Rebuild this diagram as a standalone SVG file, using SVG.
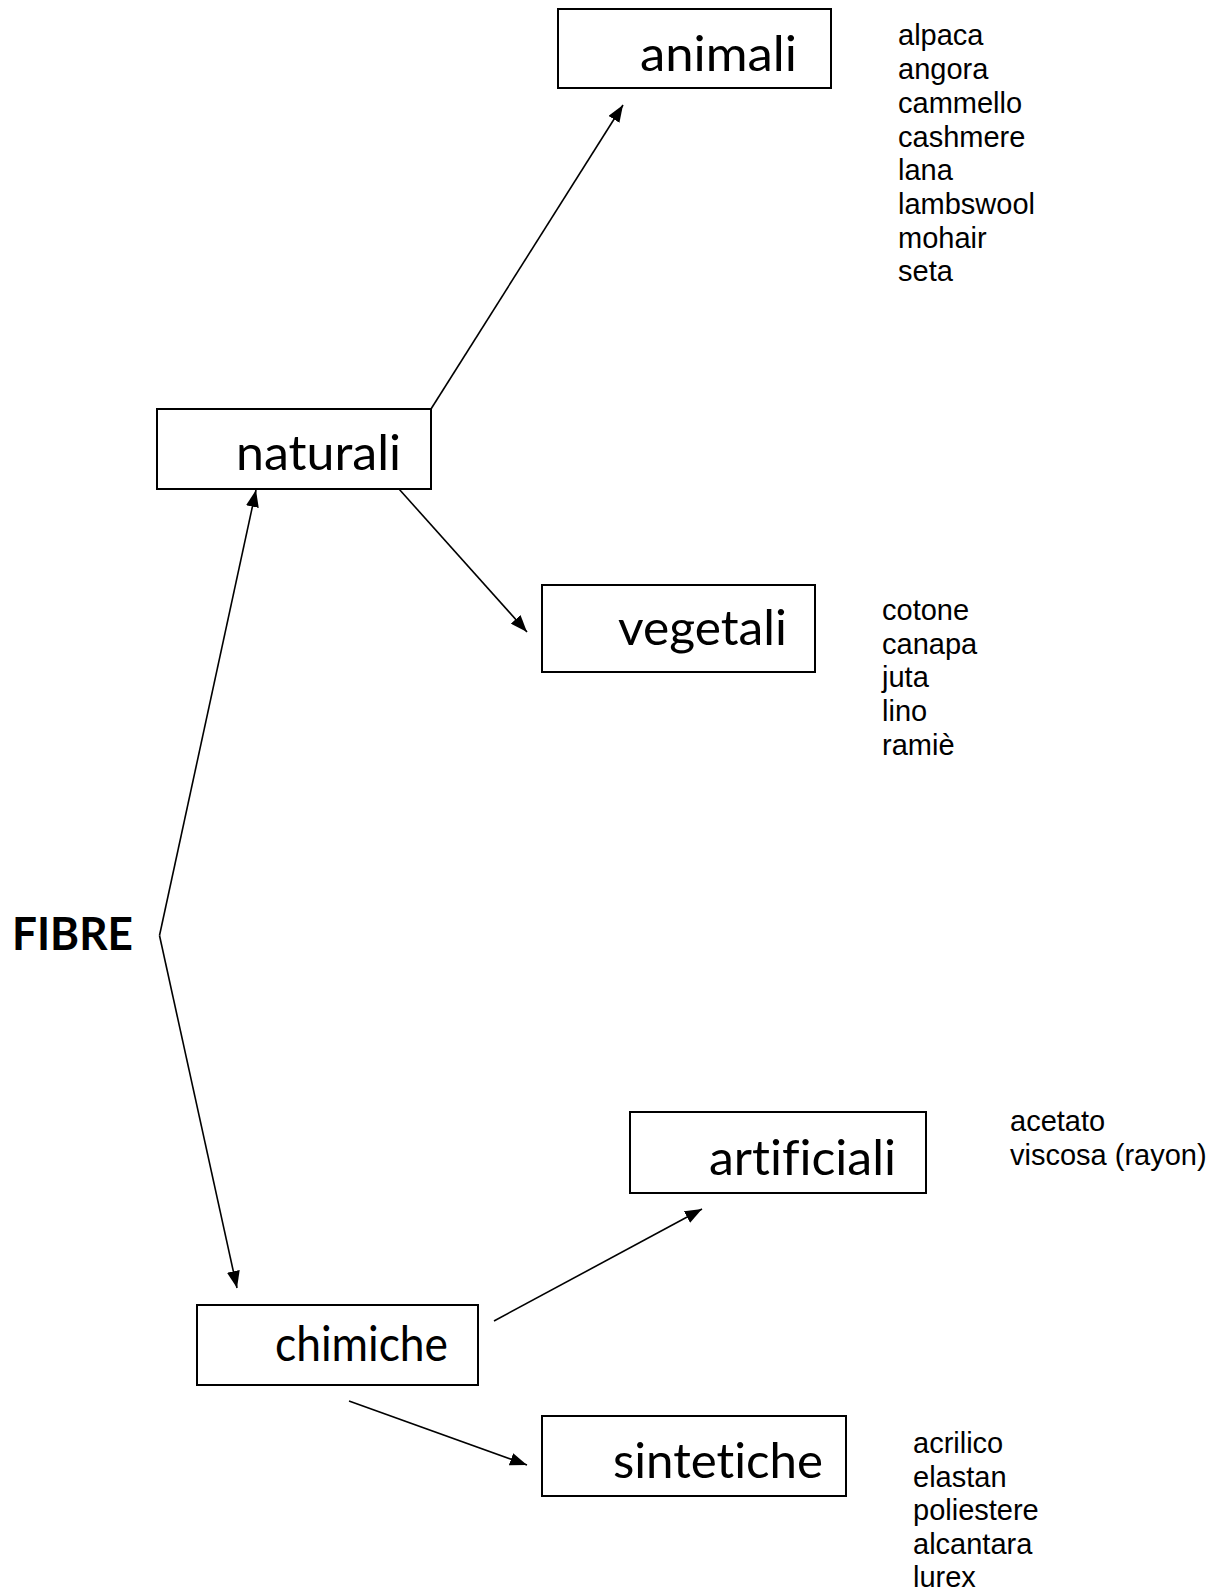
<svg xmlns="http://www.w3.org/2000/svg" width="1225" height="1593" viewBox="0 0 1225 1593">
<style>
.box{fill:#fff;stroke:#000;stroke-width:2}
.lbl{font-family:Lato,"Open Sans",sans-serif;font-size:49px;fill:#000;font-variant-ligatures:none;font-feature-settings:"liga" 0}
.lst{font-family:"Liberation Sans",Arial,sans-serif;font-size:29px;fill:#000}
.con{stroke:#000;stroke-width:1.6;fill:none}
.arr{marker-end:url(#ah)}
</style>
<defs>
<marker id="ah" viewBox="0 0 17 13" refX="17" refY="6.5" markerWidth="17" markerHeight="13" markerUnits="userSpaceOnUse" orient="auto">
<path d="M0,0 L17,6.5 L0,13 Z" fill="#000"/>
</marker>
</defs>
<rect width="1225" height="1593" fill="#fff"/>
<g id="connectors">
<path class="con arr" d="M431,409 L623,105"/>
<path class="con arr" d="M399,489 L527,632"/>
<path class="con arr" d="M159.5,935.5 L256,490"/>
<path class="con arr" d="M159.5,935.5 L237,1288"/>
<path class="con arr" d="M494,1321 L702,1209"/>
<path class="con arr" d="M349,1401 L527,1465"/>
</g>
<g id="fibre">
<text x="12" y="950" font-family="Lato,'Open Sans',sans-serif" font-weight="bold" font-size="46" textLength="121" lengthAdjust="spacingAndGlyphs">FIBRE</text>
</g>
<g id="animali">
<rect class="box" x="558" y="9" width="273" height="79"/>
<text class="lbl" x="640" y="71" textLength="157" lengthAdjust="spacingAndGlyphs">animali</text>
</g>
<g id="animali-list">
<text class="lst" x="898" y="45">alpaca</text>
<text class="lst" x="898" y="79">angora</text>
<text class="lst" x="898" y="113">cammello</text>
<text class="lst" x="898" y="147">cashmere</text>
<text class="lst" x="898" y="180">lana</text>
<text class="lst" x="898" y="214">lambswool</text>
<text class="lst" x="898" y="248">mohair</text>
<text class="lst" x="898" y="281">seta</text>
</g>
<g id="naturali">
<rect class="box" x="157" y="409" width="274" height="80"/>
<text class="lbl" x="236" y="470" textLength="165" lengthAdjust="spacingAndGlyphs">naturali</text>
</g>
<g id="vegetali">
<rect class="box" x="542" y="585" width="273" height="87"/>
<text class="lbl" x="618" y="645" textLength="169" lengthAdjust="spacingAndGlyphs">vegetali</text>
</g>
<g id="vegetali-list">
<text class="lst" x="882" y="620">cotone</text>
<text class="lst" x="882" y="654">canapa</text>
<text class="lst" x="882" y="687">juta</text>
<text class="lst" x="882" y="721">lino</text>
<text class="lst" x="882" y="755">ramiè</text>
</g>
<g id="chimiche">
<rect class="box" x="197" y="1305" width="281" height="80"/>
<text class="lbl" x="275" y="1361" textLength="173" lengthAdjust="spacingAndGlyphs">chimiche</text>
</g>
<g id="artificiali">
<rect class="box" x="630" y="1112" width="296" height="81"/>
<text class="lbl" x="709" y="1175" textLength="187" lengthAdjust="spacingAndGlyphs">artificiali</text>
</g>
<g id="artificiali-list">
<text class="lst" x="1010" y="1131">acetato</text>
<text class="lst" x="1010" y="1165">viscosa (rayon)</text>
</g>
<g id="sintetiche">
<rect class="box" x="542" y="1416" width="304" height="80"/>
<text class="lbl" x="613" y="1478" textLength="210" lengthAdjust="spacingAndGlyphs">sintetiche</text>
</g>
<g id="sintetiche-list">
<text class="lst" x="913" y="1453">acrilico</text>
<text class="lst" x="913" y="1487">elastan</text>
<text class="lst" x="913" y="1520">poliestere</text>
<text class="lst" x="913" y="1554">alcantara</text>
<text class="lst" x="913" y="1587">lurex</text>
</g>
</svg>
